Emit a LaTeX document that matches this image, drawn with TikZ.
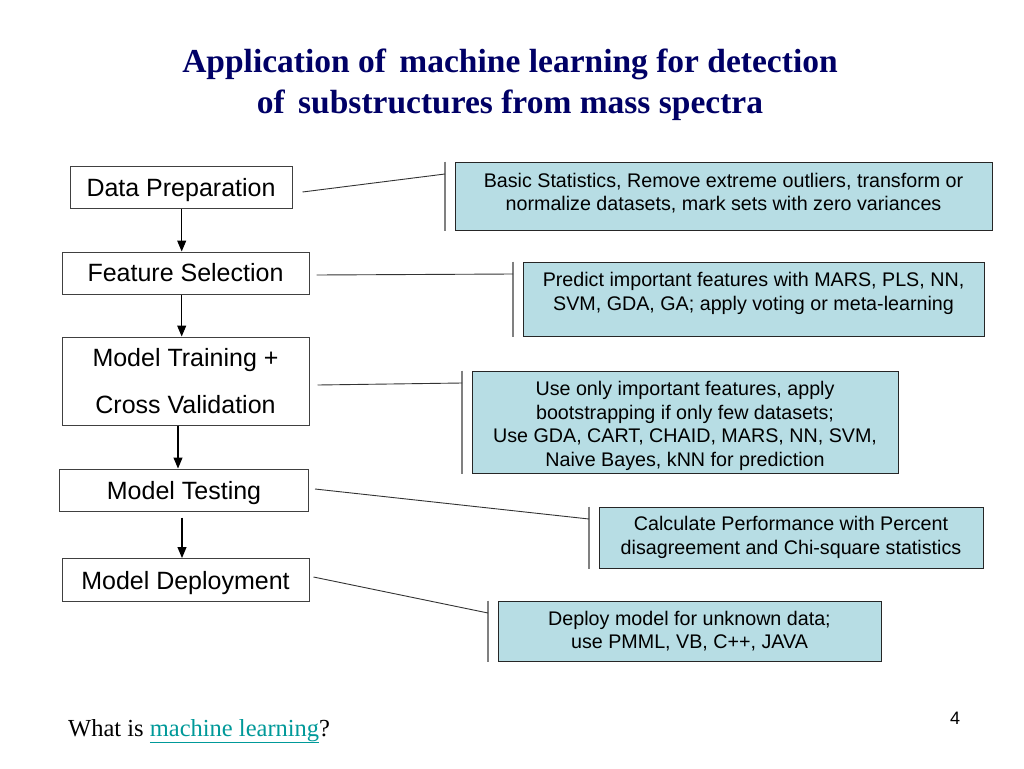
\documentclass[tikz,border=0pt]{standalone}
\usepackage{fontspec}
\setmainfont{Liberation Serif}
\newfontfamily\arialfont{Liberation Sans}
\usetikzlibrary{arrows.meta,calc}
\definecolor{titleblue}{RGB}{0,0,102}
\definecolor{boxfill}{RGB}{183,221,228}
\definecolor{linkteal}{RGB}{0,153,153}
\definecolor{brackgray}{RGB}{128,128,128}
\begin{document}
\begin{tikzpicture}[x=1pt,y=-1pt,
 lbox/.style={draw=black!75, line width=1pt, fill=white, inner sep=0pt, font=\arialfont\fontsize{25}{30}\selectfont, align=center},
 rbox/.style={draw=black!85, line width=1pt, fill=boxfill, inner sep=0pt, font=\arialfont\fontsize{19.7}{23.7}\selectfont, align=center},
 rlabel/.style={inner sep=0pt, font=\arialfont\fontsize{19.7}{23.7}\selectfont, align=center},
 flow/.style={draw=black, line width=1.1pt, -{Triangle[length=11pt,width=9pt]}},
 link/.style={draw=black!80, line width=0.9pt},
 brack/.style={draw=brackgray, line width=1.6pt}]
\useasboundingbox[fill=white] (0,0) rectangle (1024,768);

% title
\node[font=\bfseries\fontsize{33.5}{41}\selectfont, text=titleblue, align=center] (title) at (510,85)
  {Application of\hspace{0.15em} machine learning for detection\\of\hspace{0.15em} substructures from mass spectra};

% left flow boxes
\node[lbox, minimum width=222pt, minimum height=42pt, text depth=0pt] (dp) at (181,187) {Data Preparation};
\node[lbox, minimum width=247pt, minimum height=42pt] (fs) at (185.5,273) {Feature Selection};
\node[lbox, minimum width=247pt, minimum height=88pt] (mt) at (185.5,381) {Model Training +\\[17pt]Cross Validation};
\node[lbox, minimum width=249pt, minimum height=42pt, text depth=0pt] (mte) at (184,490) {Model Testing};
\node[lbox, minimum width=247pt, minimum height=43pt, text depth=0pt] (mde) at (185.5,580) {Model Deployment};

% flow arrows
\draw[flow] ([xshift=0.7pt]dp.south) -- ([xshift=0.7pt]dp.south |- fs.north);
\draw[flow] ([xshift=-3.8pt]fs.south) -- ([xshift=-3.8pt]fs.south |- mt.north);
\draw[flow] ([xshift=-7.5pt]mt.south) -- ([xshift=-7.5pt]mt.south |- mte.north);
\draw[flow] ([xshift=-2pt,yshift=-6pt]mte.south) -- ([xshift=-2pt]mte.south |- mde.north);

% right description boxes
\node[rbox, minimum width=537pt, minimum height=68pt] (r1) at (723.5,196)
  {Basic Statistics, Remove extreme outliers, transform or\\normalize datasets, mark sets with zero variances\rule[-8pt]{0pt}{8pt}};
\node[rbox, minimum width=461pt, minimum height=74pt,
  label={[rlabel, anchor=north, yshift=-11pt]north:{Predict important features with MARS, PLS, NN,\\SVM, GDA, GA; apply voting or meta-learning}}] (r2) at (753.5,299) {};
\node[rbox, minimum width=426pt, minimum height=102pt] (r3) at (685,422)
  {\rule{0pt}{22pt}Use only important features, apply\\bootstrapping if only few datasets;\\Use GDA, CART, CHAID, MARS, NN, SVM,\\Naive Bayes, kNN for prediction};
\node[rbox, minimum width=384pt, minimum height=61pt] (r4) at (791,537.5)
  {Calculate Performance with Percent\\disagreement and Chi-square statistics};
\node[rbox, minimum width=383pt, minimum height=60pt] (r5) at (689.5,631)
  {Deploy model for unknown data;\\use PMML, VB, C++, JAVA};

% callout bars and attach points
\foreach \r in {r1,r2,r3,r4,r5} {
  \draw[brack] ([xshift=-9.5pt]\r.north west) -- ([xshift=-9.5pt]\r.south west);
  \coordinate (\r a) at ([xshift=-9.5pt,yshift=-12.5pt]\r.north west);
}

% connectors
\draw[link] ([xshift=10pt,yshift=-5pt]dp.east) -- (r1a);
\draw[link] ([xshift=7pt,yshift=-2pt]fs.east) -- (r2a);
\draw[link] ([xshift=8pt,yshift=-4pt]mt.east) -- (r3a);
\draw[link] ([xshift=6pt,yshift=1pt]mte.east) -- (r4a);
\draw[link] ([xshift=4pt,yshift=3pt]mde.east) -- (r5a);

% footer
\node[font=\fontsize{24.5}{28}\selectfont, anchor=base west, inner sep=0pt] (q) at (68,736)
  {What is \textcolor{linkteal}{\underline{machine learning}}?};
\node[font=\arialfont\fontsize{18}{20}\selectfont] (pg) at (955,718) {4};
\end{tikzpicture}
\end{document}
